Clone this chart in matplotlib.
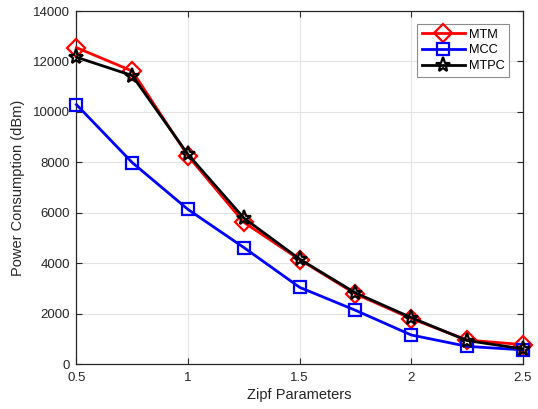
import numpy as np
import matplotlib
matplotlib.use("Agg")
from matplotlib import pyplot as plt

plt.rcParams['font.family'] = ['Liberation Sans', 'DejaVu Sans']

zipf = [0.5, 0.75, 1.0, 1.25, 1.5, 1.75, 2.0, 2.25, 2.5]
mtm = [12550, 11620, 8250, 5620, 4140, 2780, 1800, 950, 770]
mcc = [10290, 7990, 6130, 4620, 3040, 2130, 1150, 700, 560]
mtpc = [12170, 11440, 8310, 5790, 4160, 2820, 1840, 930, 600]

xticks = [0.5, 1, 1.5, 2, 2.5]
yticks = [0, 2000, 4000, 6000, 8000, 10000, 12000, 14000]

fig = plt.figure(figsize=(5.38, 4.09), dpi=100)
ax = fig.add_axes([0.142, 0.110, 0.830, 0.863])

ax.plot(zipf, mtm, color='red', lw=2, marker='D', ms=9, mfc='none', mew=1.6,
        label='MTM', clip_on=False, zorder=3)
ax.plot(zipf, mcc, color='blue', lw=2, marker='s', ms=8, mfc='none', mew=1.6,
        label='MCC', clip_on=False, zorder=3)
ax.plot(zipf, mtpc, color='black', lw=2, marker='*', ms=11, mfc='none', mew=1.6,
        label='MTPC', clip_on=False, zorder=3)

ax.set_xlim(0.5, 2.5)
ax.set_ylim(0, 14000)
ax.set_xticks(xticks)
ax.set_xticklabels(['0.5', '1', '1.5', '2', '2.5'])
ax.set_yticks(yticks)
ax.grid(True, color='#e3e3e3', lw=0.8)
ax.set_axisbelow(True)
ax.tick_params(direction='in', length=4, labelsize=9.5, colors='#262626',
               top=True, right=True, width=0.8)
ax.tick_params(axis='x', pad=5.5)
ax.tick_params(axis='y', pad=4.5)
for sp in ax.spines.values():
    sp.set_color('#262626')
    sp.set_linewidth(0.9)

ax.set_xlabel('Zipf Parameters', fontsize=10.5, color='#262626', labelpad=3)
ax.set_ylabel('Power Consumption (dBm)', fontsize=10.5, color='#262626', labelpad=6)

leg = ax.legend(loc='upper right', bbox_to_anchor=(0.969, 0.963), borderaxespad=0,
                fontsize=9.2, fancybox=False, framealpha=1, edgecolor='#8c8c8c',
                handlelength=3.4, borderpad=0.35, labelspacing=0.3, handletextpad=0.3)
leg.get_frame().set_linewidth(0.8)

fig.savefig('out.png', dpi=100)
